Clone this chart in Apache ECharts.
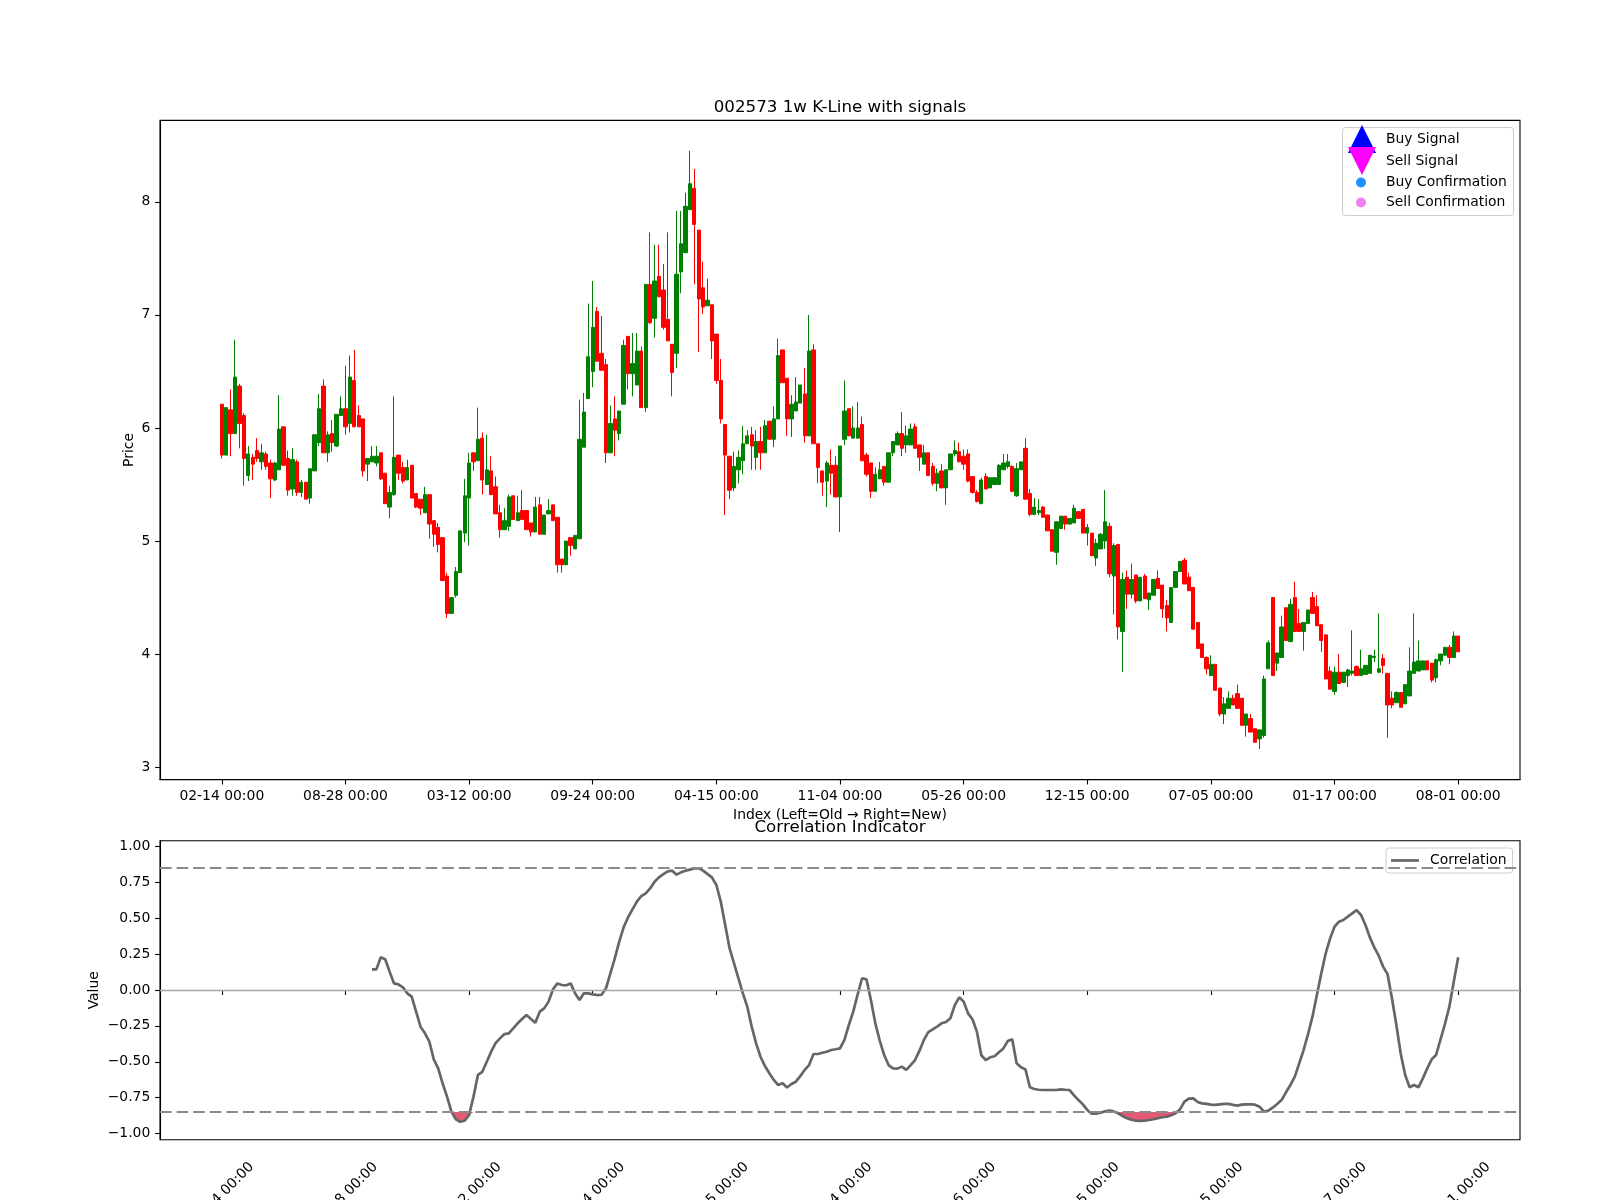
<!DOCTYPE html>
<html><head><meta charset="utf-8">
<script src="https://cdn.jsdelivr.net/npm/echarts@6/dist/echarts.min.js"></script>
<style>html,body{margin:0;padding:0;background:#fff}#c{width:1600px;height:1200px}</style>
</head><body><div id="c"></div>
<script>
const tickLabels = ['02-14 00:00','08-28 00:00','03-12 00:00','09-24 00:00','04-15 00:00','11-04 00:00','05-26 00:00','12-15 00:00','07-05 00:00','01-17 00:00','08-01 00:00'];
const tickStep = 28;
const priceTicks = [3,4,5,6,7,8];
const corrTicks = [-1,-0.75,-0.5,-0.25,0,0.25,0.5,0.75,1];
const threshold = 0.85;

const openP = [
6.21,5.76,6.16,5.95,6.37,6.11,5.58,5.74,5.80,5.70,
5.77,5.69,5.54,5.63,6.01,5.73,5.46,5.70,5.43,5.52,
5.38,5.62,5.87,6.37,5.78,5.95,5.84,6.11,6.17,6.04,
6.42,6.11,6.08,5.68,5.70,5.69,5.78,5.60,5.30,5.41,
5.76,5.65,5.54,5.67,5.42,5.37,5.25,5.41,5.18,5.12,
5.03,4.69,4.36,4.52,4.72,5.07,5.38,5.78,5.71,5.91,
5.50,5.62,5.48,5.25,5.10,5.13,5.40,5.18,5.27,5.27,
5.16,5.08,5.32,5.06,5.24,5.32,5.21,4.84,4.79,5.03,
4.93,5.02,5.83,6.26,6.50,7.03,6.66,6.56,5.78,6.08,
5.95,6.21,6.81,6.48,6.38,6.68,6.18,7.27,6.97,7.34,
7.22,6.96,6.74,6.66,7.38,7.55,7.93,8.12,7.75,7.24,
7.08,7.09,6.83,6.42,6.03,5.75,5.47,5.63,5.71,5.86,
5.94,5.74,5.88,5.78,6.06,5.90,6.08,6.69,6.44,6.08,
6.15,6.22,6.30,5.93,6.69,5.86,5.62,5.53,5.67,5.67,
5.39,5.90,6.17,5.91,5.91,6.03,5.76,5.69,5.44,5.55,
5.66,5.52,5.78,5.85,5.95,5.85,5.85,6.01,5.85,5.68,
5.78,5.66,5.51,5.62,5.47,5.63,5.77,5.79,5.75,5.77,
5.57,5.43,5.33,5.57,5.47,5.50,5.50,5.63,5.66,5.66,
5.40,5.63,5.82,5.42,5.235,5.25,5.30,5.23,5.10,4.90,
5.11,5.22,5.15,5.16,5.26,5.28,5.07,5.07,4.85,4.93,
5.00,5.13,4.69,4.97,4.20,4.68,4.53,4.70,4.47,4.69,
4.48,4.52,4.67,4.61,4.43,4.28,4.59,4.73,4.83,4.68,
4.59,4.28,4.09,3.97,3.81,3.91,3.70,3.47,3.52,3.61,
3.65,3.61,3.37,3.43,3.34,3.25,3.28,3.87,4.50,3.92,
3.97,4.41,4.11,4.50,4.27,4.20,4.27,4.50,4.42,4.26,
4.17,3.85,3.67,3.84,3.75,3.81,3.83,3.89,3.81,3.82,
3.83,3.97,3.84,3.96,3.83,3.61,3.57,3.66,3.56,3.63,
3.83,3.85,3.86,3.94,3.92,3.79,3.94,3.99,4.06,3.97,4.16];

const closeP = [
5.76,6.18,5.95,6.45,6.04,5.73,5.77,5.68,5.73,5.78,
5.66,5.55,5.69,5.99,5.67,5.45,5.72,5.43,5.52,5.37,
5.64,5.94,6.17,5.78,5.94,5.87,6.12,6.17,6.01,6.45,
6.01,6.01,5.62,5.73,5.75,5.75,5.55,5.33,5.43,5.74,
5.60,5.53,5.65,5.38,5.30,5.29,5.41,5.15,5.06,4.97,
4.65,4.36,4.50,4.73,5.09,5.40,5.69,5.70,5.90,5.54,
5.63,5.41,5.24,5.10,5.18,5.39,5.19,5.25,5.19,5.10,
5.08,5.30,5.06,5.23,5.27,5.18,4.79,4.79,5.00,4.96,
5.05,5.90,6.14,6.63,6.89,6.59,6.51,5.78,6.04,5.98,
6.15,6.73,6.48,6.57,6.68,6.18,7.27,6.93,7.30,7.16,
6.89,6.77,6.49,7.36,7.63,7.96,8.16,7.80,7.14,7.07,
7.13,6.77,6.42,6.08,5.76,5.45,5.66,5.74,5.86,5.93,
5.84,5.88,5.78,6.02,5.90,6.08,6.64,6.40,6.08,6.21,
6.23,6.38,5.93,6.68,5.86,5.65,5.52,5.69,5.60,5.39,
5.84,6.15,5.93,6.00,6.00,5.71,5.59,5.44,5.59,5.63,
5.52,5.78,5.88,5.95,5.82,5.93,5.99,5.82,5.74,5.78,
5.58,5.51,5.60,5.47,5.63,5.77,5.80,5.70,5.68,5.53,
5.43,5.35,5.54,5.46,5.56,5.56,5.67,5.69,5.70,5.44,
5.64,5.70,5.37,5.235,5.30,5.27,5.21,5.09,4.91,5.17,
5.22,5.15,5.20,5.29,5.20,5.07,5.12,4.87,4.98,5.06,
5.17,4.71,4.96,4.24,4.66,4.53,4.66,4.47,4.68,4.49,
4.54,4.66,4.58,4.40,4.32,4.59,4.73,4.82,4.62,4.56,
4.22,4.05,3.97,3.87,3.91,3.68,3.47,3.56,3.61,3.55,
3.52,3.37,3.47,3.31,3.22,3.33,3.78,4.10,3.81,4.01,
4.24,4.12,4.44,4.20,4.20,4.28,4.39,4.36,4.25,4.12,
3.78,3.69,3.84,3.74,3.84,3.86,3.85,3.81,3.87,3.90,
3.99,3.98,3.87,3.90,3.55,3.55,3.66,3.53,3.73,3.85,
3.93,3.94,3.94,3.86,3.77,3.95,4.00,4.06,3.97,4.16,4.02];

const lowP = [
5.73,5.76,5.75,5.95,5.82,5.49,5.53,5.54,5.70,5.63,
5.63,5.38,5.53,5.63,5.67,5.40,5.40,5.40,5.39,5.37,
5.33,5.62,5.84,5.78,5.70,5.79,5.83,6.11,5.94,5.96,
6.01,6.01,5.57,5.53,5.70,5.66,5.54,5.33,5.20,5.40,
5.54,5.51,5.54,5.38,5.29,5.23,5.25,5.02,4.95,4.90,
4.65,4.32,4.36,4.50,4.72,4.99,4.96,5.62,5.71,5.41,
5.50,5.41,5.24,5.03,5.10,5.09,5.19,5.18,5.19,5.10,
5.04,5.08,5.06,5.06,5.24,5.18,4.72,4.72,4.79,4.87,
4.93,5.02,5.83,6.26,6.36,6.59,6.51,5.69,5.78,5.75,
5.89,6.21,6.34,6.28,6.38,6.18,6.14,6.92,6.80,7.16,
6.87,6.77,6.28,6.53,7.19,7.55,7.93,7.27,6.67,7.01,
7.08,6.61,6.39,6.04,5.23,5.37,5.44,5.51,5.59,5.86,
5.63,5.63,5.63,5.78,5.90,5.83,6.08,6.40,5.93,5.92,
6.15,6.22,5.87,5.93,5.86,5.51,5.40,5.30,5.41,5.39,
5.08,5.85,5.93,5.91,5.91,5.71,5.57,5.38,5.44,5.55,
5.49,5.52,5.75,5.85,5.75,5.78,5.85,5.82,5.62,5.68,
5.58,5.49,5.44,5.47,5.32,5.63,5.75,5.70,5.63,5.52,
5.42,5.34,5.33,5.46,5.47,5.50,5.50,5.63,5.64,5.43,
5.39,5.63,5.37,5.22,5.235,5.23,5.21,5.09,4.91,4.79,
5.11,5.10,5.15,5.16,5.20,5.07,4.96,4.87,4.78,4.93,
4.93,4.68,4.35,4.13,3.84,4.40,4.49,4.45,4.47,4.49,
4.39,4.52,4.58,4.32,4.20,4.28,4.59,4.73,4.62,4.56,
4.22,4.05,3.97,3.82,3.81,3.68,3.45,3.38,3.52,3.55,
3.52,3.37,3.27,3.31,3.22,3.16,3.26,3.87,3.81,3.85,
3.97,4.12,4.11,4.20,4.20,4.03,4.27,4.36,4.25,4.02,
3.78,3.69,3.64,3.74,3.75,3.71,3.81,3.81,3.81,3.82,
3.83,3.93,3.83,3.83,3.26,3.52,3.57,3.53,3.56,3.63,
3.83,3.85,3.86,3.86,3.75,3.75,3.90,3.99,3.91,3.97,4.02];

const highP = [
6.21,6.18,6.34,6.78,6.39,6.13,5.84,5.77,5.91,5.86,
5.79,5.72,5.70,6.29,6.01,5.80,5.82,5.72,5.54,5.52,
5.64,5.94,6.30,6.43,5.97,6.07,6.12,6.28,6.55,6.64,
6.69,6.20,6.08,5.73,5.84,5.84,5.78,5.60,5.49,6.28,
5.76,5.70,5.72,5.67,5.42,5.37,5.48,5.41,5.18,5.16,
5.03,4.72,4.50,4.77,5.09,5.55,5.78,5.78,6.18,5.96,
5.94,5.75,5.57,5.32,5.29,5.41,5.40,5.40,5.45,5.27,
5.16,5.39,5.39,5.23,5.37,5.32,5.21,4.84,5.00,5.03,
5.05,6.25,6.31,7.10,7.30,7.07,6.99,6.61,6.20,6.28,
6.15,6.78,6.81,6.84,6.84,6.72,7.27,7.73,7.62,7.62,
7.45,7.73,6.74,7.92,7.92,8.08,8.45,8.29,7.75,7.47,
7.32,7.09,6.83,6.61,6.03,5.75,5.79,5.80,6.02,5.98,
6.01,5.98,6.01,6.07,6.06,6.19,6.79,6.69,6.44,6.29,
6.45,6.38,6.53,7.00,6.74,5.86,5.62,5.71,5.81,5.75,
5.84,6.42,6.17,6.19,6.23,6.10,5.78,5.69,5.65,5.70,
5.66,5.78,5.88,5.97,6.14,6.02,6.04,6.04,5.85,5.85,
5.78,5.69,5.64,5.68,5.63,5.77,5.89,5.87,5.81,5.81,
5.57,5.45,5.56,5.60,5.56,5.56,5.68,5.77,5.77,5.67,
5.69,5.70,5.91,5.46,5.38,5.37,5.31,5.23,5.10,5.17,
5.22,5.22,5.20,5.32,5.26,5.28,5.15,5.07,5.02,5.07,
5.45,5.16,4.98,4.97,4.72,4.74,4.80,4.70,4.68,4.71,
4.54,4.66,4.74,4.61,4.48,4.59,4.73,4.82,4.85,4.72,
4.59,4.28,4.09,3.98,3.99,3.91,3.70,3.62,3.67,3.64,
3.73,3.61,3.47,3.47,3.34,3.33,3.81,4.12,4.50,4.01,
4.34,4.41,4.49,4.64,4.40,4.28,4.39,4.55,4.52,4.26,
4.17,3.89,3.89,4.00,3.84,3.87,4.21,3.90,4.04,3.90,
3.99,4.04,4.36,4.00,3.83,3.67,3.67,3.66,3.73,4.06,
4.36,4.12,3.94,3.94,3.92,3.96,4.00,4.06,4.08,4.20,4.16];

const corrStart = 34;
const corr = [
0.144,0.144,0.228,0.214,0.128,0.046,0.039,0.019,-0.023,-0.046,
-0.151,-0.256,-0.302,-0.36,-0.483,-0.546,-0.65,-0.743,-0.848,-0.901,
-0.918,-0.911,-0.871,-0.743,-0.592,-0.57,-0.50,-0.43,-0.37,-0.337,
-0.307,-0.302,-0.267,-0.232,-0.202,-0.174,-0.202,-0.228,-0.151,-0.128,
-0.081,0.005,0.046,0.035,0.033,0.046,-0.023,-0.07,-0.023,-0.023,
-0.03,-0.035,-0.033,0.012,0.116,0.22,0.337,0.437,0.506,0.562,
0.616,0.655,0.674,0.708,0.755,0.785,0.808,0.827,0.832,0.804,
0.82,0.832,0.839,0.848,0.848,0.832,0.808,0.785,0.732,0.616,
0.453,0.29,0.186,0.081,-0.023,-0.116,-0.255,-0.372,-0.465,-0.53,
-0.58,-0.627,-0.662,-0.65,-0.68,-0.655,-0.639,-0.60,-0.557,-0.523,
-0.446,-0.446,-0.437,-0.43,-0.418,-0.413,-0.407,-0.348,-0.244,-0.151,
-0.03,0.082,0.074,-0.07,-0.232,-0.353,-0.453,-0.523,-0.546,-0.548,
-0.534,-0.557,-0.523,-0.488,-0.423,-0.348,-0.293,-0.274,-0.255,-0.232,
-0.223,-0.197,-0.105,-0.051,-0.081,-0.163,-0.204,-0.29,-0.455,-0.488,
-0.469,-0.462,-0.434,-0.407,-0.355,-0.344,-0.511,-0.539,-0.553,-0.678,
-0.69,-0.695,-0.697,-0.697,-0.697,-0.697,-0.692,-0.695,-0.697,-0.734,
-0.767,-0.797,-0.836,-0.862,-0.862,-0.855,-0.846,-0.841,-0.846,-0.859,
-0.878,-0.894,-0.904,-0.911,-0.913,-0.911,-0.906,-0.901,-0.894,-0.887,
-0.883,-0.873,-0.859,-0.832,-0.778,-0.757,-0.755,-0.78,-0.79,-0.794,
-0.799,-0.801,-0.797,-0.794,-0.794,-0.801,-0.806,-0.799,-0.797,-0.797,
-0.799,-0.813,-0.848,-0.841,-0.82,-0.794,-0.767,-0.713,-0.662,-0.604,
-0.511,-0.418,-0.307,-0.186,-0.035,0.116,0.256,0.36,0.441,0.476,
0.488,0.511,0.534,0.557,0.523,0.453,0.367,0.297,0.239,0.163,
0.111,-0.058,-0.244,-0.446,-0.592,-0.678,-0.662,-0.678,-0.616,-0.546,
-0.483,-0.453,-0.344,-0.237,-0.116,0.058,0.228];

// ---- build library inputs ----
const PAD = 14;
const N = openP.length;
const cats = [];
for (let k = -PAD; k < N + PAD; k++) cats.push(String(k));
const candleData = cats.map((c, k) => {
  const i = k - PAD;
  return (i >= 0 && i < N) ? [openP[i], closeP[i], lowP[i], highP[i]] : ['-','-','-','-'];
});
const corrAt = (k) => { const i = k - PAD; return (i >= corrStart && i < N) ? corr[i - corrStart] : null; };
const corrData = cats.map((c, k) => { const v = corrAt(k); return v === null ? '-' : v; });
const fillBase = cats.map((c, k) => corrAt(k) === null ? '-' : -threshold);
const fillDiff = cats.map((c, k) => { const v = corrAt(k); return v === null ? '-' : Math.min(v + threshold, 0); });

const isTick = (k) => { const i = k - PAD; return i >= 0 && i < N && i % tickStep === 0; };
const tickFmt = (val, k) => isTick(k) ? tickLabels[(k - PAD) / tickStep] : '';
const FONT = 'DejaVu Sans';
const FS = 13.9;
const minus = (s) => s.replace('-', '\u2212');

const chart = echarts.init(document.getElementById('c'), null, {renderer: 'canvas'});
chart.setOption({
  animation: false,
  backgroundColor: '#ffffff',
  textStyle: {fontFamily: FONT, color: '#000'},
  title: [
    {text: '002573 1w K-Line with signals', left: 840, top: 99, padding: 0, textAlign: 'center',
     textStyle: {fontFamily: FONT, fontSize: 16.7, fontWeight: 'normal', color: '#000'}},
    {text: 'Correlation Indicator', left: 840, top: 819, padding: 0, textAlign: 'center',
     textStyle: {fontFamily: FONT, fontSize: 16.7, fontWeight: 'normal', color: '#000'}}
  ],
  grid: [
    {left: 160, top: 120.4, width: 1360, height: 659.2, show: true, borderColor: '#000', borderWidth: 1.1,
     backgroundColor: 'transparent', outerBoundsMode: 'none', containLabel: false},
    {left: 160, top: 840.8, width: 1360, height: 299, show: true, borderColor: '#000', borderWidth: 1.1,
     backgroundColor: 'transparent', outerBoundsMode: 'none', containLabel: false}
  ],
  xAxis: [
    {type: 'category', gridIndex: 0, data: cats, boundaryGap: false,
     axisLine: {show: true, lineStyle: {color: '#000', width: 1.1}},
     axisTick: {show: true, interval: (k) => isTick(k), length: 4.9, lineStyle: {color: '#000', width: 1.1}},
     axisLabel: {interval: (k) => isTick(k), formatter: tickFmt, margin: 9.7, fontSize: FS, fontFamily: FONT, color: '#000'},
     splitLine: {show: false},
     name: 'Index (Left=Old \u2192 Right=New)', nameLocation: 'middle', nameGap: 29, nameMoveOverlap: false,
     nameTextStyle: {fontSize: FS, fontFamily: FONT, color: '#000'}},
    {type: 'category', gridIndex: 1, data: cats, boundaryGap: false,
     axisLine: {show: true, lineStyle: {color: '#000', width: 1.1}},
     axisTick: {show: true, interval: (k) => isTick(k), length: 4.9, lineStyle: {color: '#000', width: 1.1}},
     axisLabel: {interval: (k) => isTick(k), formatter: tickFmt, rotate: 45, align: 'center', verticalAlign: 'middle',
                 margin: 55, fontSize: FS, fontFamily: FONT, color: '#000', hideOverlap: false},
     splitLine: {show: false}}
  ],
  yAxis: [
    {type: 'value', gridIndex: 0, min: 2.89, max: 8.72, scale: true,
     axisLine: {show: true, lineStyle: {color: '#000', width: 1.1}},
     axisTick: {show: true, length: 4.9, customValues: priceTicks, lineStyle: {color: '#000', width: 1.1}},
     axisLabel: {customValues: priceTicks, margin: 9.7, fontSize: FS, fontFamily: FONT, color: '#000', formatter: (v) => String(v)},
     splitLine: {show: false},
     name: 'Price', nameLocation: 'middle', nameGap: 24, nameMoveOverlap: false,
     nameTextStyle: {fontSize: FS, fontFamily: FONT, color: '#000'}},
    {type: 'value', gridIndex: 1, min: -1.044, max: 1.04,
     axisLine: {show: true, lineStyle: {color: '#000', width: 1.1}},
     axisTick: {show: true, length: 4.9, customValues: corrTicks, lineStyle: {color: '#000', width: 1.1}},
     axisLabel: {customValues: corrTicks, margin: 9.7, fontSize: FS, fontFamily: FONT, color: '#000',
                 formatter: (v) => minus(v.toFixed(2))},
     splitLine: {show: false},
     name: 'Value', nameLocation: 'middle', nameGap: 59, nameMoveOverlap: false,
     nameTextStyle: {fontSize: FS, fontFamily: FONT, color: '#000'}}
  ],
  legend: [
    {orient: 'vertical', left: 1348, top: 125, padding: 0, itemWidth: 28, itemHeight: 28, itemGap: -6,
     selectedMode: false,
     data: [
       {name: 'Buy Signal', icon: 'triangle', itemStyle: {color: '#0000ff', opacity: 1}},
       {name: 'Sell Signal', icon: 'path://M0,0L2,0L1,2Z', itemStyle: {color: '#ff00ff', opacity: 1}}
     ],
     textStyle: {fontSize: FS, fontFamily: FONT, color: '#000', padding: [0, 0, 0, 5]}},
    {orient: 'vertical', left: 1356, top: 175.5, padding: 0, itemWidth: 10, itemHeight: 10, itemGap: 6,
     selectedMode: false,
     data: [
       {name: 'Buy Confirmation', icon: 'circle', itemStyle: {color: '#1e90ff', opacity: 1}},
       {name: 'Sell Confirmation', icon: 'circle', itemStyle: {color: '#ee82ee', opacity: 1}}
     ],
     textStyle: {fontSize: FS, fontFamily: FONT, color: '#000', lineHeight: 14, padding: [0, 0, 0, 15]}},
    {orient: 'vertical', left: 1386, top: 848, padding: [5.5, 6, 5.5, 5], itemWidth: 28, itemHeight: 2.7,
     selectedMode: false, backgroundColor: 'rgba(255,255,255,0.8)', borderColor: '#cccccc', borderWidth: 1, borderRadius: 3,
     data: [{name: 'Correlation', icon: 'rect', itemStyle: {color: '#666666', opacity: 1}}],
     textStyle: {fontSize: FS, fontFamily: FONT, color: '#000', lineHeight: 14, padding: [0, 0, 0, 6]}}
  ],
  graphic: [
    {type: 'rect', z: 1, silent: true,
     shape: {x: 1342.5, y: 127.5, width: 171, height: 88, r: 3},
     style: {fill: 'rgba(255,255,255,0.8)', stroke: '#cccccc', lineWidth: 1}}
  ],
  series: [
    {type: 'candlestick', name: 'K', xAxisIndex: 0, yAxisIndex: 0, data: candleData, barWidth: 3.8, silent: true,
     itemStyle: {color: '#008000', color0: '#ff0000', borderColor: '#008000', borderColor0: '#ff0000', borderWidth: 1}},
    {type: 'scatter', name: 'Buy Signal', xAxisIndex: 0, yAxisIndex: 0, data: [], symbol: 'triangle', itemStyle: {color: '#0000ff', opacity: 1}},
    {type: 'scatter', name: 'Sell Signal', xAxisIndex: 0, yAxisIndex: 0, data: [], symbol: 'path://M0,0L2,0L1,2Z', itemStyle: {color: '#ff00ff', opacity: 1}},
    {type: 'scatter', name: 'Buy Confirmation', xAxisIndex: 0, yAxisIndex: 0, data: [], symbol: 'circle', itemStyle: {color: '#1e90ff', opacity: 1}},
    {type: 'scatter', name: 'Sell Confirmation', xAxisIndex: 0, yAxisIndex: 0, data: [], symbol: 'circle', itemStyle: {color: '#ee82ee', opacity: 1}},
    {type: 'line', name: 'fillBase', xAxisIndex: 1, yAxisIndex: 1, data: fillBase, stack: 'fill', stackStrategy: 'all',
     symbol: 'none', silent: true, lineStyle: {opacity: 0, width: 0}, z: 2},
    {type: 'line', name: 'fillArea', xAxisIndex: 1, yAxisIndex: 1, data: fillDiff, stack: 'fill', stackStrategy: 'all',
     symbol: 'none', silent: true, lineStyle: {opacity: 0, width: 0}, areaStyle: {color: '#DC143C', opacity: 0.7}, z: 2},
    {type: 'line', name: 'Correlation', xAxisIndex: 1, yAxisIndex: 1, data: corrData, symbol: 'none', silent: true,
     lineStyle: {color: '#666666', width: 2.7}, itemStyle: {color: '#666666'}, z: 4,
     markLine: {silent: true, symbol: ['none', 'none'], label: {show: false}, animation: false,
       data: [
         {yAxis: threshold, lineStyle: {type: [11.6, 5], color: '#8a8a8a', width: 2.1}},
         {yAxis: -threshold, lineStyle: {type: [11.6, 5], color: '#8a8a8a', width: 2.1}},
         {yAxis: 0, lineStyle: {type: 'solid', color: '#a6a6a6', width: 1.4}}
       ]}}
  ]
});
</script>
</body></html>
